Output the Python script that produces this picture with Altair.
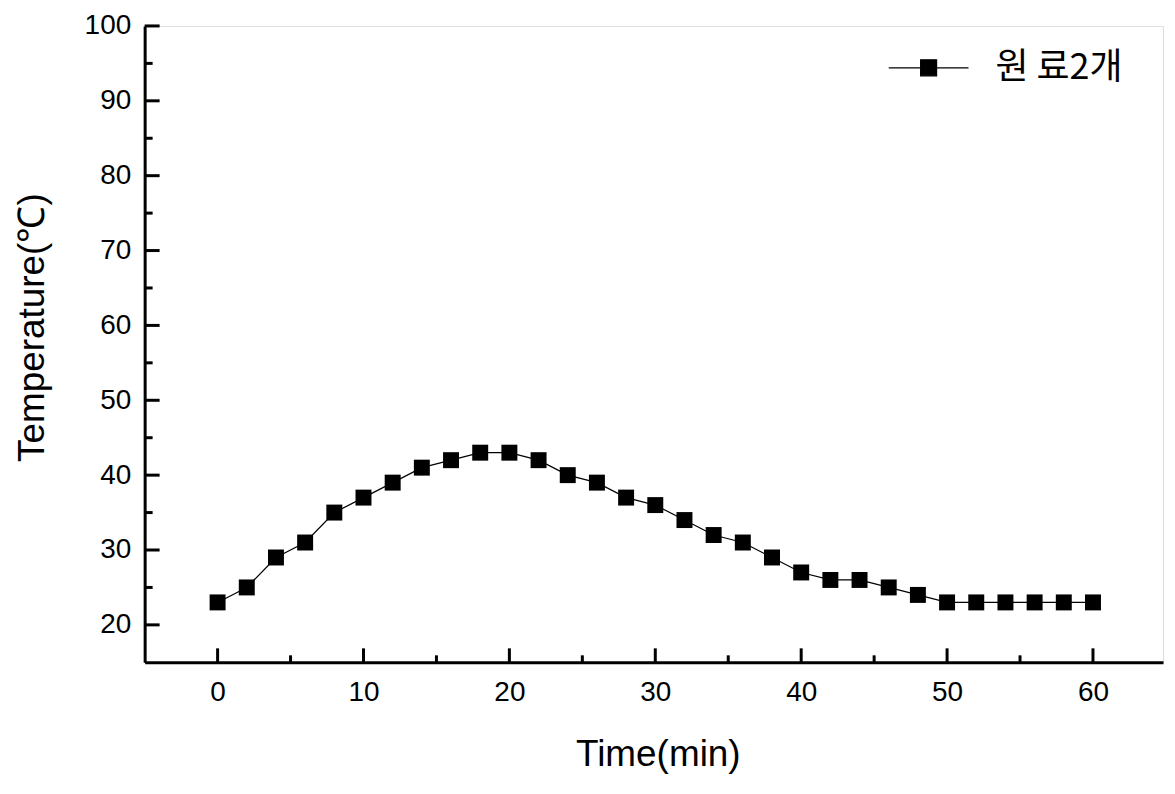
import altair as alt
import pandas as pd

# ---- data ----
time_min = [0, 2, 4, 6, 8, 10, 12, 14, 16, 18, 20, 22, 24, 26, 28, 30,
            32, 34, 36, 38, 40, 42, 44, 46, 48, 50, 52, 54, 56, 58, 60]
temperature = [23, 25, 29, 31, 35, 37, 39, 41, 42, 43, 43, 42, 40, 39, 37, 36,
               34, 32, 31, 29, 27, 26, 26, 25, 24, 23, 23, 23, 23, 23, 23]
series_name = "원 료2개"

x_major = [0, 10, 20, 30, 40, 50, 60]
x_minor = [5, 15, 25, 35, 45, 55]
y_major = [20, 30, 40, 50, 60, 70, 80, 90, 100]
y_minor = [25, 35, 45, 55, 65, 75, 85, 95]

W, H = 1021, 638
FONT = "Liberation Sans"

df = pd.DataFrame({"t": time_min, "T": temperature, "s": [series_name] * len(time_min)})

xs = alt.Scale(domain=[-5, 64.8], nice=False, zero=False)
ys = alt.Scale(domain=[15, 100], nice=False, zero=False)

x_axis = alt.Axis(values=x_major, format="d", title="Time(min)", grid=False, ticks=False,
                  labelFontSize=28, labelFont=FONT, labelPadding=16, labelColor="black",
                  domainWidth=3, domainColor="black",
                  titleFont=FONT, titleFontSize=37, titleFontWeight="normal", titleColor="black",
                  titleX=W / 2 + 4, titleY=92, titleBaseline="middle")
y_axis = alt.Axis(values=y_major, format="d", title="Temperature(℃)", grid=False, ticks=False,
                  labelFontSize=28, labelFont=FONT, labelPadding=14, labelColor="black",
                  domainWidth=3, domainColor="black",
                  titleFont=FONT, titleFontSize=37, titleFontWeight="normal", titleColor="black",
                  titleX=-112, titleY=302, titleBaseline="middle", titleAngle=-90)

line = alt.Chart(df).mark_line(color="black", strokeWidth=1.2).encode(
    x=alt.X("t:Q", scale=xs, axis=x_axis),
    y=alt.Y("T:Q", scale=ys, axis=y_axis),
)

legend_path = "M-1,0H1M-0.2,-0.2H0.2V0.2H-0.2Z"
points = alt.Chart(df).mark_point(shape="square", filled=True, size=256, opacity=1).encode(
    x=alt.X("t:Q", scale=xs),
    y=alt.Y("T:Q", scale=ys),
    color=alt.Color("s:N", scale=alt.Scale(range=["black"]),
                    legend=alt.Legend(title=None, orient="none", legendX=745, legendY=1,
                                      symbolType=legend_path, symbolSize=6400,
                                      symbolFillColor="black", symbolStrokeColor="black",
                                      symbolStrokeWidth=1.2, padding=0,
                                      labelFont="Noto Sans CJK KR", labelFontSize=36,
                                      labelColor="black", labelOffset=26, labelLimit=300)),
)

xmaj = pd.DataFrame({"v": x_major})
xmin = pd.DataFrame({"v": x_minor})
ymaj = pd.DataFrame({"v": y_major})
ymin = pd.DataFrame({"v": y_minor})

xmaj_ticks = alt.Chart(xmaj).mark_rule(color="black", strokeWidth=3).encode(
    x=alt.X("v:Q", scale=xs), y=alt.value(H), y2=alt.value(H - 14))
xmin_ticks = alt.Chart(xmin).mark_rule(color="black", strokeWidth=3).encode(
    x=alt.X("v:Q", scale=xs), y=alt.value(H), y2=alt.value(H - 7))
ymaj_ticks = alt.Chart(ymaj).mark_rule(color="black", strokeWidth=3).encode(
    y=alt.Y("v:Q", scale=ys), x=alt.value(0), x2=alt.value(15))
ymin_ticks = alt.Chart(ymin).mark_rule(color="black", strokeWidth=3).encode(
    y=alt.Y("v:Q", scale=ys), x=alt.value(0), x2=alt.value(8))

chart = alt.layer(line, points, xmaj_ticks, xmin_ticks, ymaj_ticks, ymin_ticks).properties(
    width=W, height=H,
    autosize=alt.AutoSizeParams(type="none"),
    padding={"left": 137, "top": 17, "right": 4, "bottom": 115},
).configure_view(stroke="black", strokeWidth=2.5).configure(background="white")

chart.save("out.html", embed_options={"renderer": "svg", "actions": False})
